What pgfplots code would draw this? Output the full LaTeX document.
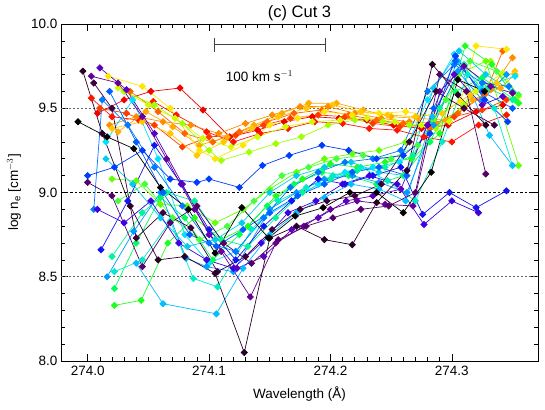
\documentclass[border=0pt]{standalone}
\usepackage{pgfplots}
\pgfplotsset{compat=1.18}
\usepackage{fontspec}
\setmainfont{Liberation Sans}

% IDL-like rainbow colours, dark to red
\definecolor{c01}{RGB}{0,0,0}
\definecolor{c02}{RGB}{40,0,40}
\definecolor{c03}{RGB}{60,0,60}
\definecolor{c04}{RGB}{85,0,105}
\definecolor{c05}{RGB}{100,0,150}
\definecolor{c06}{RGB}{90,0,195}
\definecolor{c07}{RGB}{60,0,225}
\definecolor{c08}{RGB}{20,20,240}
\definecolor{c09}{RGB}{0,60,255}
\definecolor{c10}{RGB}{0,95,255}
\definecolor{c11}{RGB}{0,120,255}
\definecolor{c12}{RGB}{0,155,255}
\definecolor{c13}{RGB}{0,190,255}
\definecolor{c14}{RGB}{0,205,235}
\definecolor{c15}{RGB}{0,225,255}
\definecolor{c16}{RGB}{0,235,200}
\definecolor{c17}{RGB}{0,245,150}
\definecolor{c18}{RGB}{0,255,90}
\definecolor{c19}{RGB}{30,255,30}
\definecolor{c20}{RGB}{70,255,60}
\definecolor{c21}{RGB}{100,255,0}
\definecolor{c22}{RGB}{160,255,0}
\definecolor{c23}{RGB}{210,250,0}
\definecolor{c24}{RGB}{255,230,0}
\definecolor{c25}{RGB}{255,200,0}
\definecolor{c26}{RGB}{255,170,0}
\definecolor{c27}{RGB}{255,140,0}
\definecolor{c28}{RGB}{255,100,0}
\definecolor{c29}{RGB}{255,60,0}
\definecolor{c30}{RGB}{255,20,0}
\definecolor{c31}{RGB}{240,0,0}

\pgfplotsset{ser/.style={color=#1, line width=0.7pt, mark=square*,
    mark size=2.2pt, mark options={rotate=45, solid}}}

\begin{document}
\begin{tikzpicture}
\begin{axis}[
    name=ax,
    scale only axis,
    width=477pt, height=337pt,
    xmin=273.978, xmax=274.371,
    ymin=8.0, ymax=10.0,
    xtick={274.0,274.1,274.2,274.3},
    xticklabels={274.0,274.1,274.2,274.3},
    ytick={8.0,8.5,9.0,9.5,10.0},
    yticklabels={8.0,8.5,9.0,9.5,10.0},
    minor x tick num=9,
    minor y tick num=4,
    tick align=inside,
    major tick length=7pt,
    minor tick length=4pt,
    every tick/.style={black, line width=0.6pt},
    axis line style={line width=0.8pt},
    ticklabel style={font=\fontsize{13.5}{16}\selectfont},
    xticklabel style={yshift=-1.5pt},
    label style={font=\fontsize{13.5}{16}\selectfont},
    xlabel={Wavelength (Å)},
    ylabel={log n$_\mathrm{e}$ [cm$^{-3}$]},
    xlabel style={at={(axis description cs:0.5,0)}, anchor=center, yshift=-33pt},
    ylabel style={at={(axis description cs:0,0.5)}, anchor=center, yshift=47pt},
    title={(c) Cut 3},
    title style={font=\fontsize{16.5}{19}\selectfont, at={(axis description cs:0.5,1)}, anchor=center, yshift=5pt},
]
% reference levels
\addplot[gray!80!black, line width=0.6pt, dash pattern=on 1.5pt off 2.5pt] coordinates {(273.978,9.5) (274.371,9.5)};
\addplot[gray!80!black, line width=0.6pt, dash pattern=on 1.5pt off 2.5pt] coordinates {(273.978,8.5) (274.371,8.5)};
\addplot[black, line width=0.7pt, dash pattern=on 2.5pt off 2pt] coordinates {(273.978,9.0) (274.371,9.0)};

% upper band
\addplot[ser=c31] coordinates {(274.008,9.47)(274.030,9.55)(274.052,9.60)(274.076,9.62)(274.095,9.49)(274.117,9.33)(274.140,9.37)(274.162,9.42)(274.185,9.45)(274.207,9.44)(274.230,9.43)(274.252,9.40)(274.275,9.38)(274.297,9.40)(274.320,9.48)(274.342,9.52)};
\addplot[ser=c30] coordinates {(274.003,9.56)(274.020,9.45)(274.042,9.43)(274.054,9.54)(274.073,9.46)(274.098,9.36)(274.120,9.30)(274.142,9.35)(274.165,9.38)(274.187,9.42)(274.210,9.41)(274.232,9.38)(274.255,9.37)(274.277,9.33)(274.300,9.30)(274.322,9.40)(274.345,9.46)};
\addplot[ser=c29] coordinates {(274.010,9.50)(274.032,9.47)(274.055,9.40)(274.078,9.27)(274.100,9.33)(274.122,9.34)(274.145,9.40)(274.167,9.44)(274.190,9.46)(274.212,9.45)(274.235,9.41)(274.257,9.39)(274.280,9.40)(274.302,9.45)(274.325,9.49)(274.345,9.55)};
\addplot[ser=c28] coordinates {(274.035,9.60)(274.058,9.48)(274.080,9.35)(274.103,9.30)(274.125,9.36)(274.148,9.42)(274.170,9.47)(274.193,9.49)(274.215,9.46)(274.238,9.43)(274.260,9.41)(274.282,9.38)(274.305,9.47)(274.327,9.58)(274.342,9.84)};
\addplot[ser=c27] coordinates {(274.018,9.40)(274.040,9.45)(274.062,9.42)(274.085,9.40)(274.108,9.35)(274.130,9.41)(274.152,9.46)(274.175,9.51)(274.198,9.51)(274.220,9.47)(274.242,9.44)(274.265,9.42)(274.287,9.41)(274.310,9.50)(274.332,9.61)(274.350,9.80)};
\addplot[ser=c26] coordinates {(274.025,9.36)(274.048,9.48)(274.070,9.39)(274.092,9.28)(274.115,9.33)(274.137,9.40)(274.160,9.47)(274.182,9.53)(274.205,9.53)(274.227,9.49)(274.250,9.45)(274.272,9.44)(274.295,9.43)(274.317,9.55)(274.340,9.62)(274.352,9.70)};
\addplot[ser=c25] coordinates {(274.020,9.38)(274.045,9.42)(274.068,9.35)(274.090,9.22)(274.112,9.30)(274.135,9.38)(274.157,9.45)(274.180,9.50)(274.202,9.52)(274.225,9.48)(274.247,9.46)(274.270,9.45)(274.292,9.47)(274.315,9.58)(274.337,9.65)(274.352,9.72)};
\addplot[ser=c24] coordinates {(274.017,9.69)(274.045,9.63)(274.068,9.50)(274.092,9.25)(274.105,9.20)(274.128,9.28)(274.150,9.40)(274.173,9.44)(274.195,9.48)(274.218,9.46)(274.240,9.47)(274.262,9.48)(274.285,9.45)(274.307,9.54)(274.320,9.87)(274.345,9.85)};
\addplot[ser=c23] coordinates {(274.025,9.62)(274.050,9.52)(274.072,9.44)(274.095,9.32)(274.118,9.27)(274.140,9.33)(274.163,9.39)(274.185,9.42)(274.208,9.43)(274.230,9.44)(274.253,9.42)(274.275,9.40)(274.298,9.42)(274.320,9.60)(274.342,9.71)(274.355,9.57)};
\addplot[ser=c22] coordinates {(274.030,9.60)(274.055,9.52)(274.078,9.41)(274.100,9.25)(274.110,9.19)(274.133,9.24)(274.155,9.29)(274.176,9.33)(274.198,9.40)(274.220,9.43)(274.243,9.42)(274.265,9.40)(274.287,9.38)(274.310,9.52)(274.332,9.78)(274.352,9.55)};

% lower band
\addplot[ser=c21] coordinates {(274.020,9.08)(274.040,9.07)(274.060,8.93)(274.082,8.92)(274.105,8.82)(274.128,8.90)(274.150,9.02)(274.172,9.12)(274.195,9.20)(274.218,9.23)(274.240,9.25)(274.262,9.30)(274.285,9.43)(274.305,9.70)(274.328,9.78)(274.355,9.16)};
\addplot[ser=c20] coordinates {(274.025,8.95)(274.047,9.05)(274.070,8.85)(274.092,8.72)(274.115,8.80)(274.137,8.95)(274.160,9.10)(274.182,9.15)(274.205,9.20)(274.227,9.22)(274.250,9.20)(274.272,9.28)(274.295,9.55)(274.315,9.78)(274.337,9.72)(274.355,9.58)};
\addplot[ser=c19] coordinates {(274.022,8.33)(274.044,8.36)(274.066,8.70)(274.088,8.85)(274.110,8.72)(274.132,8.80)(274.155,8.98)(274.177,9.08)(274.200,9.17)(274.222,9.15)(274.245,9.18)(274.267,9.20)(274.290,9.35)(274.311,9.87)(274.333,9.76)(274.355,9.53)};
\addplot[ser=c18] coordinates {(274.022,8.43)(274.040,8.70)(274.060,8.97)(274.080,8.85)(274.103,8.60)(274.125,8.75)(274.148,8.92)(274.170,9.05)(274.193,9.12)(274.215,9.10)(274.238,9.05)(274.260,9.10)(274.282,9.30)(274.303,9.60)(274.325,9.68)(274.352,9.55)};
\addplot[ser=c17] coordinates {(274.020,8.62)(274.045,8.88)(274.065,9.00)(274.088,8.95)(274.110,8.72)(274.132,8.68)(274.155,8.85)(274.177,9.00)(274.200,9.08)(274.222,9.13)(274.245,9.15)(274.268,9.22)(274.290,9.50)(274.310,9.76)(274.330,9.62)(274.350,9.55)};
\addplot[ser=c16] coordinates {(274.022,8.53)(274.045,8.60)(274.068,8.83)(274.087,8.49)(274.107,8.44)(274.135,8.78)(274.157,8.95)(274.180,9.03)(274.202,9.10)(274.225,9.15)(274.247,9.07)(274.270,8.95)(274.292,9.30)(274.313,9.70)(274.335,9.50)(274.350,9.16)};
\addplot[ser=c15] coordinates {(274.015,9.30)(274.037,9.55)(274.058,9.20)(274.080,8.75)(274.100,8.58)(274.122,8.65)(274.145,8.85)(274.168,8.95)(274.190,9.05)(274.212,9.12)(274.235,9.15)(274.257,9.18)(274.280,9.55)(274.302,9.82)(274.324,9.62)(274.352,9.69)};
\addplot[ser=c14] coordinates {(274.015,9.20)(274.037,9.05)(274.060,8.85)(274.082,8.68)(274.105,8.72)(274.127,8.82)(274.150,9.00)(274.172,9.10)(274.195,9.15)(274.217,9.18)(274.240,9.12)(274.262,9.10)(274.285,9.62)(274.306,9.84)(274.328,9.70)(274.350,9.60)};
\addplot[ser=c13] coordinates {(274.040,8.58)(274.062,8.34)(274.106,8.28)(274.128,8.55)(274.150,8.75)(274.172,8.88)(274.195,8.97)(274.217,9.05)(274.240,9.02)(274.262,8.95)(274.284,9.45)(274.305,9.78)(274.331,9.34)(274.350,9.16)};
\addplot[ser=c12] coordinates {(274.016,8.50)(274.038,8.77)(274.060,9.00)(274.081,8.61)(274.098,8.56)(274.120,8.53)(274.150,8.90)(274.172,9.00)(274.195,9.08)(274.218,9.10)(274.240,9.06)(274.263,9.00)(274.285,9.40)(274.305,9.72)(274.325,9.55)(274.345,9.70)};
\addplot[ser=c11] coordinates {(274.005,8.90)(274.012,9.55)(274.033,9.40)(274.055,9.15)(274.078,8.92)(274.100,8.70)(274.122,8.65)(274.145,8.85)(274.167,9.03)(274.190,9.12)(274.212,9.18)(274.235,9.20)(274.258,9.25)(274.280,9.60)(274.302,9.76)(274.325,9.65)(274.347,9.63)};
\addplot[ser=c10] coordinates {(274.018,9.60)(274.040,9.30)(274.062,9.00)(274.084,8.75)(274.106,8.68)(274.128,8.78)(274.150,8.88)(274.173,8.98)(274.195,9.05)(274.218,9.12)(274.240,9.15)(274.263,9.10)(274.285,9.50)(274.303,9.78)(274.325,9.60)(274.350,9.50)};
\addplot[ser=c09] coordinates {(274.000,9.10)(274.022,9.15)(274.045,9.25)(274.068,9.08)(274.090,9.06)(274.100,9.08)(274.125,9.03)(274.144,9.16)(274.166,9.22)(274.193,9.28)(274.215,9.25)(274.238,9.20)(274.260,9.22)(274.282,9.35)(274.303,9.81)(274.327,9.55)(274.346,9.42)};
\addplot[ser=c08] coordinates {(274.011,8.66)(274.033,8.95)(274.055,9.28)(274.077,9.05)(274.100,8.78)(274.122,8.60)(274.145,8.80)(274.168,8.95)(274.190,9.08)(274.212,9.05)(274.235,9.10)(274.258,9.15)(274.276,8.87)(274.298,9.00)(274.320,8.91)(274.345,9.01)};
\addplot[ser=c07] coordinates {(274.008,8.90)(274.030,8.82)(274.052,8.95)(274.075,8.70)(274.098,8.60)(274.120,8.55)(274.143,8.70)(274.165,8.88)(274.188,8.95)(274.210,9.05)(274.232,9.10)(274.255,9.05)(274.277,8.81)(274.300,8.95)(274.322,8.88)};
\addplot[ser=c06] coordinates {(274.010,9.74)(274.032,9.61)(274.055,9.35)(274.078,9.05)(274.100,8.75)(274.123,8.55)(274.145,8.62)(274.168,8.78)(274.190,8.85)(274.213,8.95)(274.235,8.98)(274.258,9.02)(274.280,9.40)(274.302,9.70)(274.325,9.52)(274.342,9.57)};
\addplot[ser=c05] coordinates {(274.003,9.69)(274.025,9.65)(274.045,9.45)(274.065,9.20)(274.088,8.90)(274.110,8.65)(274.134,8.38)(274.155,8.70)(274.178,8.80)(274.200,8.90)(274.222,8.95)(274.245,8.93)(274.268,8.92)(274.290,9.60)(274.310,9.75)(274.332,9.63)(274.350,9.59)};
\addplot[ser=c04] coordinates {(274.000,9.06)(274.020,8.98)(274.045,8.56)(274.068,8.82)(274.090,8.92)(274.112,8.70)(274.135,8.58)(274.157,8.72)(274.180,8.80)(274.202,8.85)(274.225,8.90)(274.248,8.92)(274.270,9.00)(274.290,9.70)(274.312,9.60)(274.328,9.11)};
\addplot[ser=c03] coordinates {(274.005,9.65)(274.020,9.50)(274.040,8.73)(274.062,8.88)(274.085,8.79)(274.107,8.53)(274.130,8.62)(274.152,8.78)(274.175,8.90)(274.197,8.95)(274.220,8.98)(274.242,9.05)(274.265,9.30)(274.287,9.60)(274.310,9.50)(274.335,9.40)};
\addplot[ser=c02] coordinates {(273.996,9.72)(274.012,9.35)(274.035,8.92)(274.058,8.60)(274.080,8.62)(274.105,8.52)(274.129,8.05)(274.150,8.73)(274.172,8.80)(274.195,8.72)(274.218,8.69)(274.238,8.94)(274.263,9.13)(274.284,9.76)(274.305,9.58)(274.328,9.40)};
\addplot[ser=c01] coordinates {(273.992,9.42)(274.016,9.33)(274.038,9.26)(274.060,9.03)(274.083,8.90)(274.105,8.64)(274.127,8.91)(274.149,8.73)(274.171,8.86)(274.194,8.91)(274.216,9.00)(274.238,9.00)(274.260,8.88)(274.283,9.12)(274.305,9.67)(274.327,9.60)};

% velocity scale bar
\draw[black!75, line width=0.9pt] (axis cs:274.1046,9.877) -- (axis cs:274.1962,9.877);
\draw[black!75, line width=0.9pt] (axis cs:274.1046,9.835) -- (axis cs:274.1046,9.915);
\draw[black!75, line width=0.9pt] (axis cs:274.1962,9.835) -- (axis cs:274.1962,9.915);
\node[font=\fontsize{13.5}{16}\selectfont] at (axis cs:274.1415,9.69) {100 km s$^{-1}$};
\end{axis}
\pgfresetboundingbox
\path ([xshift=-61pt,yshift=-48pt]ax.south west) rectangle ([xshift=7pt,yshift=24pt]ax.north east);
\end{tikzpicture}
\end{document}
